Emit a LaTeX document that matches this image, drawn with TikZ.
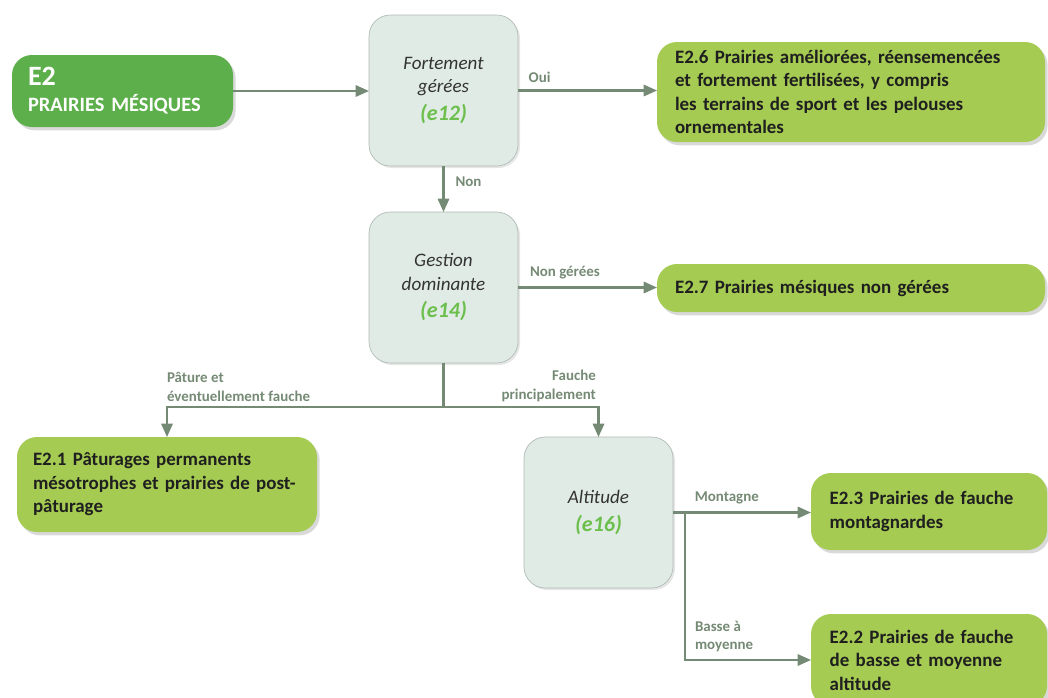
\documentclass[tikz,border=0pt]{standalone}
\usepackage{fontspec}
\setmainfont{Carlito}
\usetikzlibrary{arrows.meta,positioning,shadows}
\definecolor{rootgreen}{HTML}{5CAF4A}
\definecolor{leafgreen}{HTML}{A5CB52}
\definecolor{querygray}{HTML}{E0EBE6}
\definecolor{queryedge}{HTML}{AEBAB5}
\definecolor{flowgray}{HTML}{758A74}
\definecolor{codegreen}{HTML}{6CBF4C}
\definecolor{inkdark}{HTML}{1F1F1F}
\newcommand{\critcode}[1]{{\fontsize{16.5}{19}\selectfont\bfseries\color{codegreen}#1}}

\begin{document}
\begin{tikzpicture}[
  x=0.75pt, y=-0.75pt,
  every node/.style={inner sep=0pt, outer sep=0pt},
  root/.style={rounded corners=15pt, fill=rootgreen, anchor=north west, align=left,
    text width=141.75pt, inner xsep=12pt, minimum height=54pt, text=white,
    font=\fontsize{15.3}{19.5}\selectfont\bfseries,
    drop shadow={opacity=0.3, shadow xshift=2pt, shadow yshift=-2.5pt}},
  query/.style={rounded corners=16pt, draw=queryedge, line width=0.5pt, fill=querygray,
    anchor=north west, minimum width=111.75pt, minimum height=113.25pt, align=center,
    font=\fontsize{14.3}{17.6}\selectfont\itshape, text=black!80,
    drop shadow={opacity=0.2, shadow xshift=1.5pt, shadow yshift=-1.5pt}},
  leaf/.style={rounded corners=15pt, fill=leafgreen, anchor=north west, align=left,
    inner xsep=13.5pt, font=\fontsize{14.2}{17.6}\selectfont\bfseries, text=inkdark,
    drop shadow={opacity=0.3, shadow xshift=2pt, shadow yshift=-2.5pt}},
  flow/.style={draw=flowgray, line width=1.6pt, -{Triangle[length=10pt,width=8.5pt]}},
  lbl/.style={font=\fontsize{11.2}{14}\selectfont\bfseries, text=flowgray, align=left}
]
\useasboundingbox (0,0) rectangle (1048,697);

% entry and questions
\node[root] (e2) at (12,55) {{\fontsize{21}{19.5}\selectfont E2}\\PRAIRIES MÉSIQUES};
\node[query] (e12) at (369,15) {Fortement\\gérées\\[3pt]\critcode{(e12)}};
\node[query] (e14) at (369,212) {Gestion\\dominante\\[3pt]\critcode{(e14)}};
\node[query] (e16) at (524,437) {Altitude\\[3pt]\critcode{(e16)}};

% habitats
\node[leaf, text width=264pt, minimum height=75pt] (e26) at (657,42)
  {E2.6 Prairies améliorées, réensemencées\\et fortement fertilisées, y compris\\les terrains de sport et les pelouses\\ornementales};
\node[leaf, text width=264pt, minimum height=36pt] (e27) at (657,264)
  {E2.7 Prairies mésiques non gérées};
\node[leaf, inner xsep=12pt, text width=201pt, minimum height=71.25pt] (e21) at (17,437)
  {E2.1 Pâturages permanents\\mésotrophes et prairies de post-\\pâturage};
\node[leaf, inner xsep=14pt, text width=149pt, minimum height=57.75pt] (e23) at (811,473)
  {E2.3 Prairies de fauche\\montagnardes};
\node[leaf, inner xsep=14pt, text width=149pt, minimum height=69pt] (e22) at (811,614)
  {E2.2 Prairies de fauche\\de basse et moyenne\\altitude};

% connectors
\draw[flow] (e2) -- (e2 -| e12.west);
\draw[flow] (e12.east) -- node[lbl, pos=0, anchor=south west, xshift=8pt, yshift=6pt] {Oui} (e12.east -| e26.west);
\draw[flow] (e12.south) -- node[lbl, pos=0.35, right, xshift=9pt] {Non} (e14.north);
\draw[flow] (e14.east) -- node[lbl, pos=0, anchor=south west, xshift=9pt, yshift=6pt] {Non gérées} (e14.east -| e27.west);

\coordinate (split) at ([yshift=-33pt]e14.south);
\draw[flow] (e14.south) -- (split) -| (e21.north);
\draw[flow] (split) -| (e16.north);
\path (split -| e21.north) node[lbl, anchor=south west, yshift=4pt] {Pâture et\\éventuellement fauche};
\path (split -| e16.north) node[lbl, anchor=south east, align=right, xshift=-2pt, yshift=4pt] {Fauche\\principalement};

\coordinate (fork) at ([xshift=9pt]e16.east);
\draw[flow] (e16.east) -- node[lbl, pos=0.39, anchor=south, yshift=6pt] {Montagne} (e16.east -| e23.west);
\draw[flow] (fork) |- node[lbl, pos=0.5, anchor=south west, xshift=7.5pt, yshift=6pt] {Basse à\\moyenne} (e22.west);
\end{tikzpicture}
\end{document}
